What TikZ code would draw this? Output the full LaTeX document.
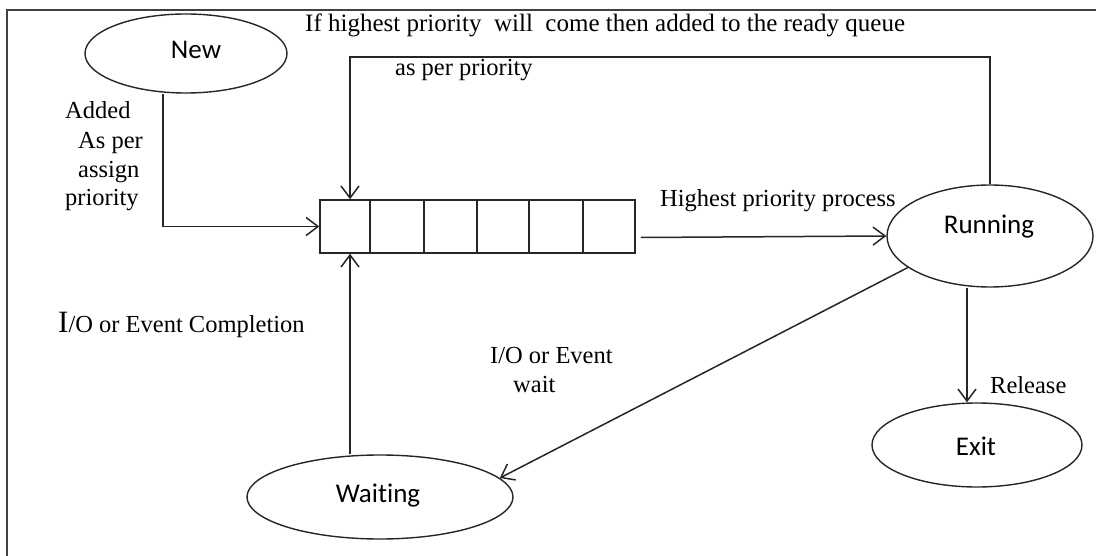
\documentclass[tikz,border=0pt]{standalone}
\usepackage{fontspec}
\setmainfont{Liberation Serif}
\newfontfamily\sansf[Ligatures=NoCommon]{Carlito}
\usetikzlibrary{arrows.meta,shapes.geometric}
\tikzset{
  st/.style={draw=black!85, line width=1.4pt, ellipse, inner sep=0pt},
  stlbl/.style={font=\sansf\fontsize{27}{27}\selectfont, inner sep=0pt},
  lbl/.style={font=\fontsize{24.5}{24.5}\selectfont, inner sep=0pt, anchor=base west},
  arr/.style={draw=black!85, line width=1.5pt, -{Straight Barb[length=12pt,width=18pt,line width=1.5pt]}},
  ln/.style={draw=black!85, line width=1.5pt},
}
\begin{document}
\begin{tikzpicture}[x=1pt,y=-1pt]
\useasboundingbox (0,0) rectangle (1096,556);
\begin{scope}
\clip (0,0) rectangle (1096,556);
\draw[ln, draw=black!75, line width=2pt] (7,10) rectangle (1110,570);
\end{scope}
% states
\node[st, minimum width=202pt, minimum height=79pt] (new) at (186,53.5) {};
\node[stlbl] (newt) at (196,50) {New};
\node[st, minimum width=206pt, minimum height=102pt] (run) at (990,236) {};
\node[stlbl] (runt) at (989,227) {Running};
\node[st, minimum width=210pt, minimum height=84pt] (exit) at (977,445) {};
\node[stlbl] (exitt) at (976,446) {Exit};
\node[st, minimum width=266pt, minimum height=84pt] (wait) at (380,497) {};
\node[stlbl] (waitt) at (378,496) {Waiting};
% ready queue
\node[draw=black!85, line width=1.5pt, minimum width=315pt, minimum height=53pt, inner sep=0pt] (q) at (477.5,226.5) {};
\foreach \xx in {370,424,477,529,583}{
  \draw[ln] (\xx,200) -- (\xx,253);
}
% connectors
\coordinate (fb) at (350,57);
\draw[arr] ([xshift=-23pt]new.south) |- (q.west);
\draw[arr] (run.north) |- (fb) -- (fb |- q.north);
\draw[arr] ([shift={(5,11)}]q.east) -- (run.west);
\draw[arr] ([xshift=-23pt]run.south) -- ([xshift=-10pt]exit.north);
\draw[arr] (run.201) -- (wait.9);
\draw[arr] ([xshift=-30pt]wait.north) -- ([xshift=-127.5pt]q.south);
% labels
\node[lbl, font=\fontsize{25}{25}\selectfont] (l1) at (305,32) {If highest priority\ \ will\ \ come then added to the ready queue};
\node[lbl] (l2) at (395,76) {as per priority};
\node[lbl] (l3) at (65,119) {Added};
\node[lbl] (l4) at (78,149) {As per};
\node[lbl] (l5) at (78,178) {assign};
\node[lbl] (l6) at (65,206) {priority};
\node[lbl] (l7) at (660,207) {Highest priority process};
\node[lbl] (l8) at (58,333) {{\fontsize{31}{31}\selectfont I}/O or Event Completion};
\node[lbl] (l9) at (490,363) {I/O or Event};
\node[lbl] (l10) at (513,392) {wait};
\node[lbl] (l11) at (990,393) {Release};
\end{tikzpicture}
\end{document}
